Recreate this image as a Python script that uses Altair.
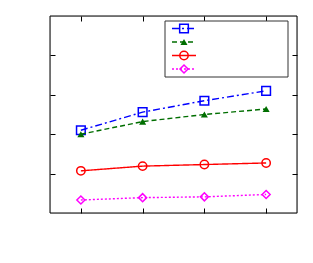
import altair as alt
import pandas as pd

xs = [1, 2, 3, 4]
blue_vals = [2.10, 2.56, 2.85, 3.10]
green_vals = [2.00, 2.32, 2.50, 2.64]
red_vals = [1.07, 1.19, 1.23, 1.27]
magenta_vals = [0.33, 0.39, 0.41, 0.47]

series = [
    ("s1", blue_vals, "#0000ff", "square", False, [7, 3, 2, 3], 75),
    ("s2", green_vals, "#006e00", "triangle-up", True, [5, 3], 50),
    ("s3", red_vals, "#ff0000", "circle", False, [1, 0], 70),
    ("s4", magenta_vals, "#ff00ff", "diamond", False, [2, 2], 65),
]

W, H = 247, 197
xscale = alt.Scale(domain=[0.5, 4.5], nice=False, zero=False)
yscale = alt.Scale(domain=[0, 5], nice=False, zero=False)


def ax(orient):
    return alt.Axis(orient=orient, values=[1, 2, 3, 4], labels=False, domain=False,
                    grid=False, tickSize=5, offset=-5, tickColor="black",
                    tickWidth=1, title=None)


layers = []
for i, (name, vals, color, shape, filled, dash, size) in enumerate(series):
    df = pd.DataFrame({"x": xs, "y": vals})
    if i == 0:
        xa, ya = ax("bottom"), ax("left")
    elif i == 1:
        xa, ya = ax("top"), ax("right")
    else:
        xa, ya = None, None
    base = alt.Chart(df)
    line = base.mark_line(color=color, strokeWidth=1.4, strokeDash=dash).encode(
        x=alt.X("x:Q", scale=xscale, axis=xa),
        y=alt.Y("y:Q", scale=yscale, axis=ya),
    )
    pt = base.mark_point(shape=shape, color=color, filled=filled, size=size,
                         strokeWidth=1.5, opacity=1).encode(
        x=alt.X("x:Q", scale=xscale, axis=None),
        y=alt.Y("y:Q", scale=yscale, axis=None),
    )
    layers += [line, pt]

leg_df = pd.DataFrame({"a": [0]})
frame = alt.Chart(leg_df).mark_rect(fill=None, stroke="black", strokeWidth=1).encode(
    x=alt.value(0), x2=alt.value(W), y=alt.value(0), y2=alt.value(H)
)
layers.append(frame)

# legend box (decoration)
box = alt.Chart(leg_df).mark_rect(fill="white", stroke="#333333", strokeWidth=1).encode(
    x=alt.value(115), x2=alt.value(238), y=alt.value(5), y2=alt.value(61)
)
layers.append(box)
for i, (name, vals, color, shape, filled, dash, size) in enumerate(series):
    yy = 12.5 + 13.5 * i
    layers.append(alt.Chart(leg_df).mark_rule(color=color, strokeWidth=1.4, strokeDash=dash).encode(
        x=alt.value(122), x2=alt.value(146), y=alt.value(yy)))
    layers.append(alt.Chart(leg_df).mark_point(shape=shape, color=color, filled=filled, size=size,
                                              strokeWidth=1.5, opacity=1).encode(
        x=alt.value(134), y=alt.value(yy)))

chart = alt.layer(*layers).resolve_axis(x="independent", y="independent").properties(
    width=W, height=H,
    autosize=alt.AutoSizeParams(type="none"),
    padding={"left": 42, "top": 8, "right": 8, "bottom": 42},
).configure_view(stroke=None).configure(background="white")

chart.save("out.html", embed_options={"renderer": "svg", "actions": False})
